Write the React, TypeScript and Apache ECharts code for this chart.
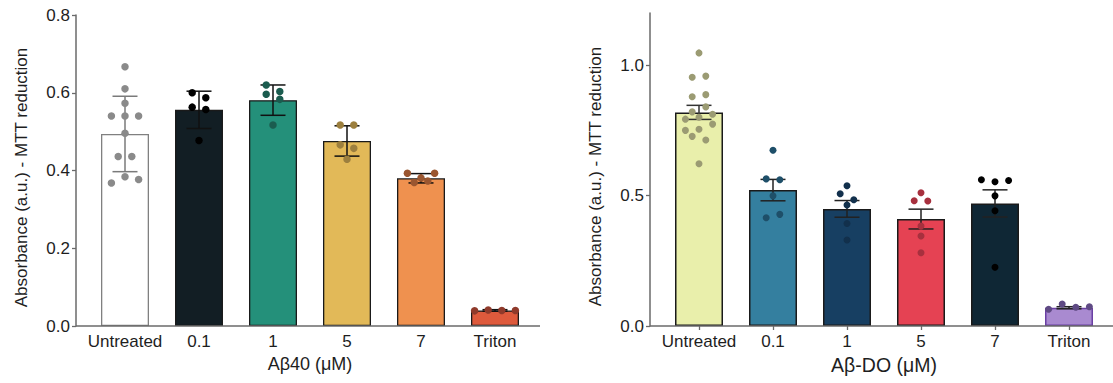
import React, { useEffect, useRef } from "react";
import * as echarts from "echarts";

const categories = ["Untreated", "0.1", "1", "5", "7", "Triton"];

// Left panel: Aβ40
const leftMeans = [0.494, 0.556, 0.581, 0.476, 0.380, 0.040];
const leftErr = [0.097, 0.048, 0.039, 0.039, 0.012, 0.002];
const leftPoints: number[][] = [
  [0.667, 0.610, 0.573, 0.540, 0.540, 0.540, 0.496, 0.436, 0.436, 0.368, 0.384, 0.377],
  [0.600, 0.587, 0.563, 0.557, 0.477],
  [0.620, 0.603, 0.596, 0.583, 0.517],
  [0.517, 0.517, 0.466, 0.457, 0.429],
  [0.393, 0.381, 0.393, 0.369, 0.373],
  [0.039, 0.041, 0.040, 0.040],
];
const leftYTicks = [0, 0.2, 0.4, 0.6, 0.8];

// Right panel: Aβ-DO
const rightMeans = [0.819, 0.521, 0.449, 0.410, 0.470, 0.070];
const rightErr = [0.027, 0.041, 0.032, 0.038, 0.052, 0.004];
const rightPoints: number[][] = [
  [1.047, 0.954, 0.958, 0.879, 0.887, 0.821, 0.840, 0.793, 0.800, 0.812, 0.750, 0.754, 0.774, 0.727, 0.713, 0.622],
  [0.674, 0.564, 0.561, 0.499, 0.415, 0.428],
  [0.538, 0.507, 0.484, 0.464, 0.393, 0.330],
  [0.511, 0.480, 0.479, 0.383, 0.345, 0.281],
  [0.561, 0.553, 0.558, 0.499, 0.442, 0.225],
  [0.064, 0.084, 0.072, 0.074],
];
const rightYTicks = [0, 0.5, 1.0];

const leftFill = ["#ffffff", "#121e24", "#24907a", "#e2b958", "#ef914f", "#de5a3c"];
const leftBorder = ["#808080", "#1a1a1a", "#1a1a1a", "#1a1a1a", "#1a1a1a", "#1a1a1a"];
const leftDot = ["#8a8a8a", "#000000", "#1b5c4f", "#9c7f3e", "#9a5630", "#8f3a2b"];
const leftErrColor = ["#7a7a7a", "#111111", "#111111", "#111111", "#111111", "#111111"];

const rightFill = ["#e9efab", "#347f9f", "#173f62", "#e54253", "#0f2735", "#a98ad0"];
const rightBorder = ["#1a1a1a", "#1a1a1a", "#1a1a1a", "#1a1a1a", "#1a1a1a", "#6a3fa3"];
const rightDot = ["#9b9b73", "#1e4f69", "#12304c", "#a7303e", "#000000", "#5f4a84"];
const rightErrColor = ["#333333", "#222222", "#222222", "#222222", "#222222", "#222222"];

const FONT = "Liberation Sans, Arial, Helvetica, sans-serif";
const AXIS_COLOR = "#6a6a6a";
const TEXT_COLOR = "#1e1e1e";

// Simple column-scatter layout: points whose pixel heights are close share a row,
// and each row is spread symmetrically around the category centre.
function columnScatter(values: number[], pxPerUnit: number, threshold: number, spacing: number) {
  const order = values.map((v, i) => i).sort((a, b) => values[b] - values[a]);
  const offsets = new Array(values.length).fill(0);
  let row: number[] = [];
  const flush = () => {
    const sorted = [...row].sort((a, b) => a - b);
    const n = sorted.length;
    sorted.forEach((idx, k) => {
      offsets[idx] = (k - (n - 1) / 2) * spacing;
    });
    row = [];
  };
  for (const idx of order) {
    if (row.length && (values[row[0]] - values[idx]) * pxPerUnit >= threshold) flush();
    row.push(idx);
  }
  if (row.length) flush();
  return offsets;
}

function scatterData(points: number[][], colors: string[], pxPerUnit: number) {
  const out: any[] = [];
  points.forEach((vals, ci) => {
    const offs = columnScatter(vals, pxPerUnit, 7, 13.6);
    vals.forEach((v, k) => {
      out.push({ value: [ci, v], symbolOffset: [offs[k], 0], itemStyle: { color: colors[ci], opacity: 1 } });
    });
  });
  return out;
}

function errorSeries(idx: number, means: number[], errs: number[], colors: string[]) {
  return {
    type: "custom",
    xAxisIndex: idx,
    yAxisIndex: idx,
    z: 3,
    data: means.map((m, i) => [i, m, errs[i]]),
    encode: { x: 0, y: 1 },
    renderItem: (params: any, api: any) => {
      const i = api.value(0);
      const m = api.value(1);
      const e = api.value(2);
      const top = api.coord([i, m + e]);
      const bot = api.coord([i, m - e]);
      const hw = 12.5;
      const style = { stroke: colors[params.dataIndex], lineWidth: 1.5 };
      return {
        type: "group",
        children: [
          { type: "line", shape: { x1: top[0], y1: top[1], x2: bot[0], y2: bot[1] }, style },
          { type: "line", shape: { x1: top[0] - hw, y1: top[1], x2: top[0] + hw, y2: top[1] }, style },
          { type: "line", shape: { x1: bot[0] - hw, y1: bot[1], x2: bot[0] + hw, y2: bot[1] }, style },
        ],
      };
    },
  };
}

export default function App() {
  const ref = useRef<HTMLDivElement>(null);
  useEffect(() => {
    if (!ref.current) return;
    const chart = echarts.init(ref.current, null, { renderer: "svg" });

    const leftPx = (326 - 15) / 0.8;
    const rightPx = (326 - 13) / 1.2;

    const xAxisBase = (name: string, ticks: boolean, nameSize: number) => ({
      type: "category",
      data: categories,
      axisLine: { show: false },
      axisTick: { show: ticks, alignWithLabel: true, interval: 0, length: 4, lineStyle: { color: AXIS_COLOR, width: 1.3 } },
      axisLabel: { interval: 0, hideOverlap: false, fontSize: 17, color: TEXT_COLOR, margin: 7, fontFamily: FONT },
      name,
      nameLocation: "middle",
      nameGap: 28,
      nameTextStyle: { fontSize: nameSize, color: TEXT_COLOR, fontFamily: FONT },
    });

    const yAxisBase = (max: number, interval: number, ticks: number[]) => ({
      type: "value",
      min: 0,
      max,
      interval,
      offset: 12,
      axisLine: { show: true, lineStyle: { color: AXIS_COLOR, width: 1.5 } },
      axisTick: { show: true, length: 4, customValues: ticks, lineStyle: { color: AXIS_COLOR, width: 1.3 } },
      axisLabel: {
        customValues: ticks,
        fontSize: 17,
        color: TEXT_COLOR,
        margin: 6,
        fontFamily: FONT,
        formatter: (v: number) => v.toFixed(1),
      },
      splitLine: { show: false },
      name: "Absorbance (a.u.) - MTT reduction",
      nameLocation: "middle",
      nameGap: 46,
      nameTextStyle: { fontSize: 17, color: TEXT_COLOR, fontFamily: FONT, padding: [0, 14, 0, 0] },
    });

    const option: any = {
      animation: false,
      backgroundColor: "#ffffff",
      textStyle: { fontFamily: FONT },
      grid: [
        { left: 88, right: 1113 - 532, top: 15, bottom: 383 - 326, containLabel: false },
        { left: 662, right: 1113 - 1106, top: 13, bottom: 383 - 326, containLabel: false },
      ],
      xAxis: [
        { gridIndex: 0, ...xAxisBase("Aβ40 (μM)", false, 18) },
        { gridIndex: 1, ...xAxisBase("Aβ-DO (μM)", true, 19.5) },
      ],
      yAxis: [
        { gridIndex: 0, ...yAxisBase(0.8, 0.2, leftYTicks) },
        { gridIndex: 1, ...yAxisBase(1.2, 0.5, rightYTicks) },
      ],
      graphic: [
        { type: "line", z: 10, shape: { x1: 76, y1: 326, x2: 540, y2: 326 }, style: { stroke: AXIS_COLOR, lineWidth: 1.5 } },
        { type: "line", z: 10, shape: { x1: 650, y1: 326, x2: 1113, y2: 326 }, style: { stroke: AXIS_COLOR, lineWidth: 1.5 } },
      ],
      series: [
        {
          type: "bar",
          xAxisIndex: 0,
          yAxisIndex: 0,
          z: 2,
          barWidth: 48,
          data: leftMeans.map((m, i) => ({
            value: m,
            itemStyle: { color: leftFill[i], borderColor: leftBorder[i], borderWidth: 1.3 },
          })),
        },
        errorSeries(0, leftMeans, leftErr, leftErrColor),
        {
          type: "scatter",
          xAxisIndex: 0,
          yAxisIndex: 0,
          z: 4,
          symbolSize: 7.5,
          itemStyle: { opacity: 1 },
          data: scatterData(leftPoints, leftDot, leftPx),
        },
        {
          type: "bar",
          xAxisIndex: 1,
          yAxisIndex: 1,
          z: 2,
          barWidth: 48,
          data: rightMeans.map((m, i) => ({
            value: m,
            itemStyle: { color: rightFill[i], borderColor: rightBorder[i], borderWidth: 1.5 },
          })),
        },
        errorSeries(1, rightMeans, rightErr, rightErrColor),
        {
          type: "scatter",
          xAxisIndex: 1,
          yAxisIndex: 1,
          z: 4,
          symbolSize: 7,
          itemStyle: { opacity: 1 },
          data: scatterData(rightPoints, rightDot, rightPx),
        },
      ],
    };
    chart.setOption(option);
    return () => chart.dispose();
  }, []);
  return (
    <div
      ref={ref}
      style={{ position: "absolute", left: 0, top: 0, width: 1113, height: 383, background: "#fff" }}
    />
  );
}
